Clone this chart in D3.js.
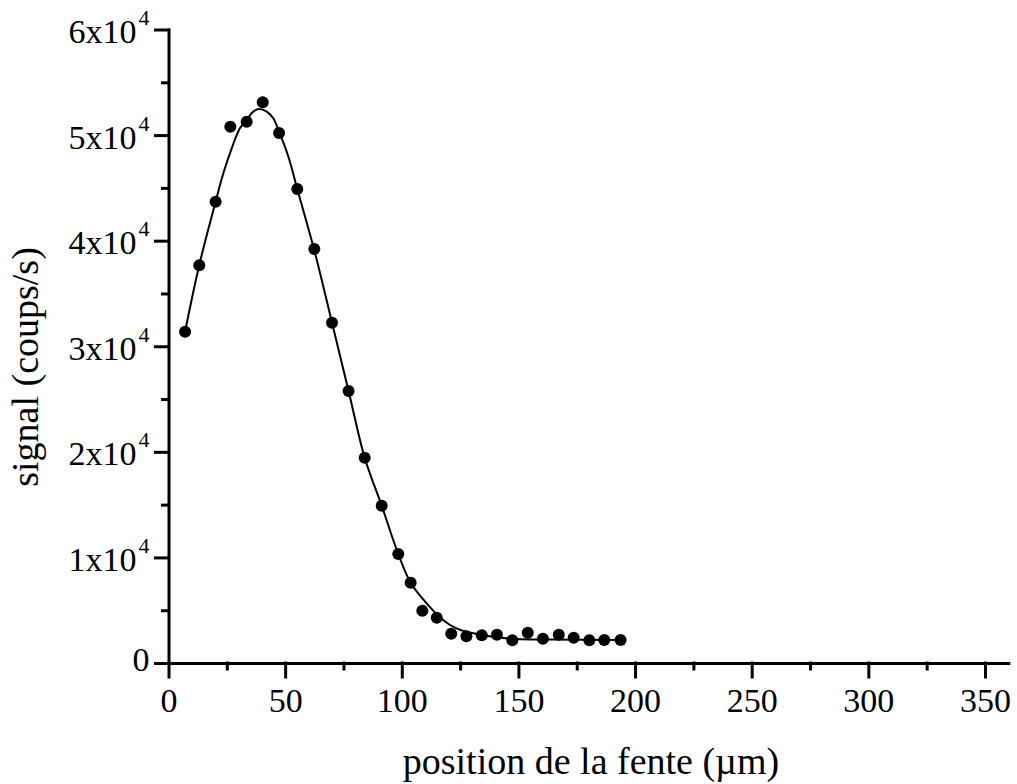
<!DOCTYPE html>
<html>
<head>
<meta charset="utf-8">
<script src="https://cdn.jsdelivr.net/npm/d3@7"></script>
<style>
  html, body { margin: 0; padding: 0; background: #fff; }
  svg { display: block; font-family: "Liberation Serif", "Times New Roman", serif; }
</style>
</head>
<body>
<svg id="chart" width="1017" height="784"></svg>
<script>
// ---- data ----
const positions = [7.1, 13.2, 20.2, 26.5, 33.5, 40.4, 47.4, 55.2, 62.5, 70.1, 77.2, 84.1, 91.4, 98.5, 103.8,
                   108.8, 115.0, 121.2, 127.7, 134.3, 140.8, 147.4, 154.0, 160.5, 167.3, 173.7, 180.4, 186.8, 193.8];
const signal = [31380, 37670, 43690, 50800, 51270, 53110, 50200, 44890, 39210, 32230, 25760, 19440, 14900, 10320, 7610,
                4950, 4290, 2780, 2530, 2620, 2680, 2150, 2870, 2300, 2680, 2400, 2150, 2180, 2180];

const fitX = [7.1, 13.2, 20.2, 23.5, 27.1, 30.6, 33.5, 36.3, 38.9, 42.1, 44.9, 47.4, 51.4, 55.2, 62.4, 70.1,
              77.2, 84.1, 91.4, 98.5, 103.8, 110.7, 116.0, 120.7, 125.5, 130.7, 140.7, 149.3, 163.5, 193.8];
const fitY = [31380, 37700, 43690, 46380, 48750, 50640, 51430, 52220, 52470, 52220, 51590, 50320, 47950, 44890, 39180, 32230,
              25760, 19440, 14900, 10320, 7610, 5650, 4400, 3600, 3100, 2810, 2430, 2270, 2220, 2180];

const xTicks = [0, 50, 100, 150, 200, 250, 300, 350];
const xMinorTicks = [25, 75, 125, 175, 225, 275, 325];
const yTicks = [0, 10000, 20000, 30000, 40000, 50000, 60000];
const yTickMantissa = ["0", "1", "2", "3", "4", "5", "6"];
const yMinorTicks = [5000, 15000, 25000, 35000, 45000, 55000];

const xTitle = "position de la fente (\u00B5m)";
const yTitle = "signal (coups/s)";

// ---- layout ----
const svg = d3.select("#chart");
const x = d3.scaleLinear().domain([0, 360]).range([168.5, 1008.3]);
const y = d3.scaleLinear().domain([0, 60000]).range([663, 29.5]);

const axisStroke = 3;

// x axis
const gx = svg.append("g").attr("transform", `translate(0,${y(0)})`);
gx.call(d3.axisBottom(x).tickValues(xTicks).tickSize(14).tickSizeOuter(0).tickPadding(11).tickFormat(d3.format("d")));
const gxm = svg.append("g").attr("transform", `translate(0,${y(0)})`);
gxm.call(d3.axisBottom(x).tickValues(xMinorTicks).tickSize(6).tickSizeOuter(0).tickFormat(""));
gxm.select(".domain").remove();

// y axis
const gy = svg.append("g").attr("transform", `translate(${x(0)},0)`);
gy.call(d3.axisLeft(y).tickValues(yTicks).tickSize(13).tickSizeOuter(0).tickFormat(""));
const gym = svg.append("g").attr("transform", `translate(${x(0)},0)`);
gym.call(d3.axisLeft(y).tickValues(yMinorTicks).tickSize(6).tickSizeOuter(0).tickFormat(""));
gym.select(".domain").remove();

svg.selectAll(".domain, .tick line")
  .attr("stroke", "#000").attr("stroke-width", axisStroke).attr("stroke-linecap", "square");

gx.selectAll(".tick text").attr("font-size", 34).attr("font-family", "Liberation Serif, serif").attr("fill", "#000");

// y tick labels with superscripts
gy.selectAll(".tick").each(function(d, i) {
  const t = d3.select(this).append("text")
    .attr("x", -19).attr("text-anchor", "end")
    .attr("font-size", 34).attr("fill", "#000")
    .attr("font-family", "Liberation Serif, serif");
  if (d === 0) {
    t.attr("y", 7).text("0");
  } else {
    t.attr("y", 13);
    t.append("tspan").text(yTickMantissa[i] + "x10");
    t.append("tspan").attr("font-size", 22).attr("dy", -18).attr("dx", 2).text("4");
  }
});

// fit curve
const line = d3.line().x((d, i) => x(fitX[i])).y((d, i) => y(fitY[i])).curve(d3.curveCatmullRom.alpha(0.5));
svg.append("path").datum(fitY).attr("d", line)
  .attr("fill", "none").attr("stroke", "#000").attr("stroke-width", 2);

// data points
svg.append("g").selectAll("circle").data(signal).join("circle")
  .attr("cx", (d, i) => x(positions[i])).attr("cy", d => y(d)).attr("r", 6).attr("fill", "#000");

// axis titles
svg.append("text").attr("x", 591).attr("y", 774).attr("text-anchor", "middle")
  .attr("font-size", 38).attr("fill", "#000").text(xTitle);
svg.append("text").attr("transform", "translate(38,367) rotate(-90)").attr("text-anchor", "middle")
  .attr("font-size", 38).attr("fill", "#000").text(yTitle);
</script>
</body>
</html>
